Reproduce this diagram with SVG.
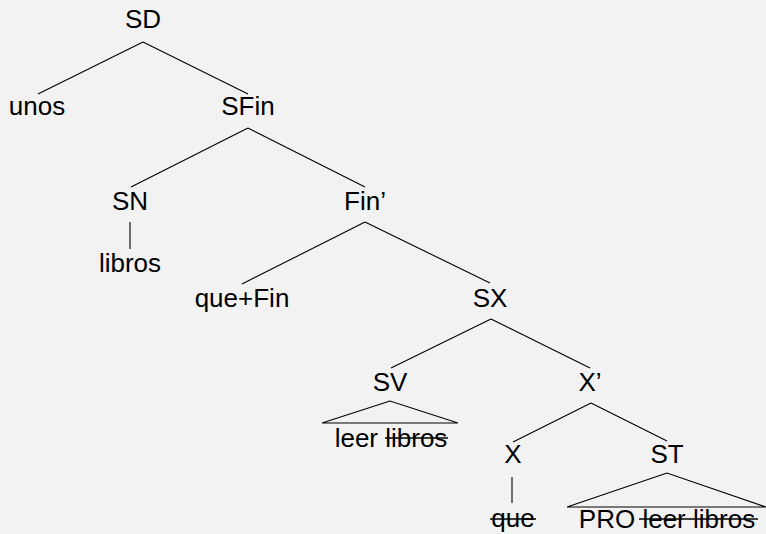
<svg xmlns="http://www.w3.org/2000/svg" width="766" height="534" viewBox="0 0 766 534">
<style>
text{font-family:"Liberation Sans",Arial,Helvetica,sans-serif;font-size:26px;fill:#000;text-anchor:middle}
.e{stroke:#000;stroke-width:1.1;fill:none}
.s{stroke:#000;stroke-width:1.3}
</style>
<rect width="766" height="534" fill="#f2f2f2"/>
<g id="edges">
<line class="e" x1="143" y1="42" x2="38" y2="94"/>
<line class="e" x1="143" y1="42" x2="248" y2="94"/>
<line class="e" x1="248" y1="128" x2="131" y2="187"/>
<line class="e" x1="248" y1="128" x2="365" y2="187"/>
<line class="e" x1="130" y1="222" x2="130" y2="249"/>
<line class="e" x1="365" y1="222" x2="242" y2="284"/>
<line class="e" x1="365" y1="222" x2="490" y2="283"/>
<line class="e" x1="491" y1="319" x2="391" y2="368"/>
<line class="e" x1="491" y1="319" x2="590" y2="368"/>
<polygon class="e" points="390,401 322,423 458,423"/>
<line class="e" x1="591" y1="403" x2="513" y2="442"/>
<line class="e" x1="591" y1="403" x2="667" y2="441"/>
<line class="e" x1="512" y1="477" x2="512" y2="503"/>
<polygon class="e" points="667,473 567,507 766,507"/>
</g>
<g id="SD"><text x="143" y="28">SD</text></g>
<g id="unos"><text x="37" y="115">unos</text></g>
<g id="SFin"><text x="248" y="115">SFin</text></g>
<g id="SN"><text x="130" y="210">SN</text></g>
<g id="libros"><text x="130" y="272">libros</text></g>
<g id="Fin1"><text x="365" y="210">Fin’</text></g>
<g id="queFin"><text x="242" y="307">que+Fin</text></g>
<g id="SX"><text x="490" y="307">SX</text></g>
<g id="SV"><text x="390" y="391">SV</text></g>
<g id="leer-libros"><text x="391" y="447">leer libros</text><line class="s" x1="385" y1="438" x2="448" y2="438"/></g>
<g id="X1"><text x="590" y="391">X’</text></g>
<g id="X"><text x="513" y="463">X</text></g>
<g id="que"><text x="513" y="527">que</text><line class="s" x1="490" y1="519" x2="536" y2="519"/></g>
<g id="ST"><text x="667" y="463">ST</text></g>
<g id="PRO"><text x="667" y="528">PRO leer libros</text><line class="s" x1="639" y1="519" x2="758" y2="519"/></g>
</svg>
